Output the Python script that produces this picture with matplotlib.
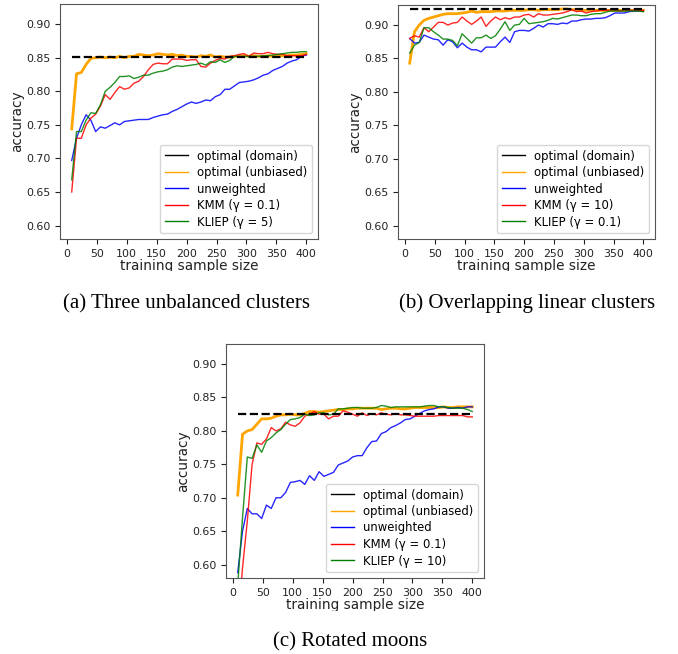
import matplotlib
matplotlib.use("Agg")
import matplotlib.pyplot as plt
from matplotlib.lines import Line2D
from matplotlib.transforms import Bbox, TransformedBbox

sizes = list(range(8, 401, 8))

# (a) three unbalanced clusters
a_domain = 0.851
a_unbiased = [0.744, 0.826, 0.828, 0.840, 0.849, 0.850, 0.851, 0.850, 0.851, 0.850,
              0.852, 0.850, 0.852, 0.852, 0.855, 0.854, 0.853, 0.854, 0.856, 0.855,
              0.854, 0.855, 0.853, 0.854, 0.852, 0.852, 0.851, 0.853, 0.852, 0.854,
              0.851, 0.852, 0.851, 0.851, 0.852, 0.852, 0.853, 0.852, 0.853, 0.852,
              0.852, 0.853, 0.852, 0.852, 0.853, 0.853, 0.854, 0.854, 0.855, 0.856]
a_unweighted = [0.697, 0.730, 0.750, 0.765, 0.757, 0.740, 0.747, 0.745, 0.749, 0.753,
                0.750, 0.755, 0.756, 0.757, 0.758, 0.758, 0.758, 0.761, 0.763, 0.765,
                0.766, 0.770, 0.773, 0.777, 0.781, 0.784, 0.782, 0.784, 0.787, 0.786,
                0.792, 0.795, 0.803, 0.803, 0.808, 0.813, 0.814, 0.815, 0.817, 0.820,
                0.824, 0.826, 0.831, 0.834, 0.837, 0.842, 0.845, 0.847, 0.852, 0.854]
a_kmm = [0.650, 0.730, 0.730, 0.750, 0.760, 0.766, 0.778, 0.795, 0.788, 0.798,
         0.807, 0.803, 0.805, 0.812, 0.815, 0.822, 0.832, 0.840, 0.842, 0.841,
         0.841, 0.848, 0.848, 0.848, 0.846, 0.847, 0.847, 0.837, 0.836, 0.842,
         0.846, 0.849, 0.848, 0.852, 0.853, 0.855, 0.856, 0.852, 0.857, 0.856,
         0.856, 0.858, 0.856, 0.855, 0.855, 0.853, 0.853, 0.853, 0.853, 0.855]
a_kliep = [0.668, 0.740, 0.740, 0.757, 0.768, 0.767, 0.780, 0.800, 0.806, 0.813,
           0.822, 0.822, 0.823, 0.819, 0.821, 0.824, 0.824, 0.827, 0.829, 0.830,
           0.832, 0.836, 0.838, 0.837, 0.838, 0.839, 0.840, 0.842, 0.839, 0.844,
           0.843, 0.847, 0.843, 0.846, 0.852, 0.852, 0.852, 0.852, 0.852, 0.852,
           0.853, 0.853, 0.854, 0.855, 0.856, 0.857, 0.858, 0.858, 0.859, 0.859]

# (b) overlapping linear clusters
b_domain = 0.924
b_unbiased = [0.843, 0.890, 0.900, 0.907, 0.910, 0.912, 0.914, 0.916, 0.917, 0.917,
              0.917, 0.918, 0.919, 0.921, 0.919, 0.920, 0.920, 0.920, 0.921, 0.921,
              0.921, 0.922, 0.922, 0.922, 0.922, 0.923, 0.923, 0.922, 0.923, 0.923,
              0.923, 0.923, 0.924, 0.924, 0.923, 0.923, 0.922, 0.922, 0.922, 0.922,
              0.922, 0.922, 0.922, 0.922, 0.922, 0.922, 0.922, 0.922, 0.922, 0.922]
b_unweighted = [0.880, 0.873, 0.874, 0.885, 0.882, 0.879, 0.878, 0.870, 0.878, 0.875,
                0.866, 0.873, 0.867, 0.863, 0.863, 0.860, 0.867, 0.867, 0.867, 0.875,
                0.882, 0.874, 0.890, 0.892, 0.892, 0.891, 0.895, 0.900, 0.897, 0.902,
                0.902, 0.901, 0.903, 0.902, 0.906, 0.906, 0.908, 0.909, 0.909, 0.910,
                0.910, 0.911, 0.914, 0.918, 0.918, 0.918, 0.920, 0.921, 0.921, 0.921]
b_kmm = [0.880, 0.884, 0.882, 0.896, 0.890, 0.897, 0.904, 0.904, 0.900, 0.903,
         0.904, 0.912, 0.906, 0.901, 0.906, 0.912, 0.898, 0.906, 0.912, 0.908,
         0.911, 0.909, 0.912, 0.912, 0.915, 0.916, 0.912, 0.917, 0.915, 0.915,
         0.916, 0.917, 0.918, 0.920, 0.923, 0.920, 0.921, 0.918, 0.920, 0.921,
         0.922, 0.922, 0.922, 0.922, 0.921, 0.922, 0.922, 0.922, 0.922, 0.922]
b_kliep = [0.858, 0.870, 0.874, 0.896, 0.896, 0.890, 0.885, 0.879, 0.879, 0.877,
           0.869, 0.887, 0.880, 0.873, 0.881, 0.881, 0.885, 0.880, 0.884, 0.894,
           0.905, 0.892, 0.900, 0.901, 0.910, 0.902, 0.903, 0.904, 0.905, 0.907,
           0.910, 0.909, 0.911, 0.913, 0.915, 0.915, 0.914, 0.914, 0.916, 0.917,
           0.917, 0.919, 0.921, 0.921, 0.921, 0.921, 0.921, 0.921, 0.921, 0.920]

# (c) rotated moons
c_domain = 0.825
c_unbiased = [0.704, 0.795, 0.800, 0.802, 0.810, 0.818, 0.818, 0.819, 0.822, 0.824,
              0.824, 0.825, 0.824, 0.824, 0.826, 0.829, 0.829, 0.828, 0.829, 0.830,
              0.831, 0.832, 0.832, 0.833, 0.833, 0.834, 0.834, 0.834, 0.834, 0.834,
              0.832, 0.833, 0.834, 0.834, 0.833, 0.833, 0.834, 0.835, 0.835, 0.835,
              0.835, 0.835, 0.835, 0.836, 0.835, 0.835, 0.836, 0.836, 0.836, 0.836]
c_unweighted = [0.588, 0.650, 0.684, 0.676, 0.676, 0.669, 0.689, 0.684, 0.700, 0.700,
                0.708, 0.723, 0.724, 0.726, 0.720, 0.733, 0.726, 0.739, 0.732, 0.735,
                0.738, 0.749, 0.752, 0.755, 0.761, 0.763, 0.763, 0.775, 0.784, 0.785,
                0.796, 0.799, 0.805, 0.808, 0.812, 0.817, 0.818, 0.822, 0.826, 0.830,
                0.832, 0.833, 0.836, 0.836, 0.834, 0.834, 0.835, 0.834, 0.836, 0.836]
c_kmm = [0.500, 0.595, 0.665, 0.750, 0.782, 0.780, 0.788, 0.805, 0.800, 0.803,
         0.813, 0.809, 0.807, 0.812, 0.822, 0.825, 0.829, 0.825, 0.825, 0.818,
         0.822, 0.822, 0.830, 0.828, 0.825, 0.822, 0.827, 0.823, 0.826, 0.824,
         0.827, 0.825, 0.824, 0.826, 0.824, 0.824, 0.823, 0.822, 0.822, 0.822,
         0.822, 0.822, 0.823, 0.823, 0.823, 0.823, 0.823, 0.823, 0.821, 0.821]
c_kliep = [0.570, 0.670, 0.761, 0.759, 0.779, 0.768, 0.785, 0.790, 0.797, 0.802,
           0.810, 0.817, 0.818, 0.820, 0.825, 0.823, 0.824, 0.827, 0.827, 0.824,
           0.825, 0.833, 0.833, 0.834, 0.835, 0.835, 0.834, 0.834, 0.834, 0.835,
           0.838, 0.837, 0.835, 0.836, 0.836, 0.836, 0.836, 0.836, 0.836, 0.837,
           0.838, 0.838, 0.836, 0.836, 0.835, 0.834, 0.834, 0.834, 0.832, 0.829]

yticks = [0.60, 0.65, 0.70, 0.75, 0.80, 0.85, 0.90]
xticks = [0, 50, 100, 150, 200, 250, 300, 350, 400]

W, H = 678, 654
fig = plt.figure(figsize=(W / 100, H / 100), dpi=100)


def panel(left, top, width, height, domain, unbiased, unweighted, kmm, kliep,
          kmm_label, kliep_label, caption, cap_x, cap_y, clip_y):
    ax = fig.add_axes([left / W, 1 - (top + height) / H, width / W, height / H])
    ax.plot(sizes, unbiased, color="orange", lw=2)
    ax.plot(sizes, unweighted, color="blue", lw=1, alpha=0.85)
    ax.plot(sizes, kmm, color="red", lw=1, alpha=0.85)
    ax.plot(sizes, kliep, color="green", lw=1, alpha=0.85)
    ax.plot([sizes[0], sizes[-1]], [domain, domain], color="black", lw=1.6, ls="--")
    ax.set_ylim(0.58, 0.93)
    ax.set_yticks(yticks)
    ax.set_xticks(xticks)
    ax.tick_params(labelsize=7.9, colors="#222222")
    for s in ax.spines.values():
        s.set_color("#555555")
    ax.set_ylabel("accuracy", fontsize=9.8, color="#222222", labelpad=1.5)
    lab = ax.set_xlabel("training sample size", fontsize=9.8, color="#222222", labelpad=0.5)
    lab.set_clip_box(TransformedBbox(Bbox([[0, 1 - clip_y / H], [1, 1]]), fig.transFigure))
    lab.set_clip_on(True)
    handles = [Line2D([], [], color="black", lw=1),
               Line2D([], [], color="orange", lw=1),
               Line2D([], [], color="blue", lw=1),
               Line2D([], [], color="red", lw=1),
               Line2D([], [], color="green", lw=1)]
    labels = ["optimal (domain)", "optimal (unbiased)", "unweighted", kmm_label, kliep_label]
    ax.legend(handles, labels, loc="lower right", fontsize=8.4, labelspacing=0.3)
    fig.text(cap_x / W, 1 - cap_y / H, caption, ha="center", va="baseline",
             family="Liberation Serif", fontsize=15)
    return ax


panel(60, 4, 258, 235, a_domain, a_unbiased, a_unweighted, a_kmm, a_kliep,
      "KMM (γ = 0.1)", "KLIEP (γ = 5)", "(a) Three unbalanced clusters", 186.5, 308, 271)
panel(398, 5, 257, 234, b_domain, b_unbiased, b_unweighted, b_kmm, b_kliep,
      "KMM (γ = 10)", "KLIEP (γ = 0.1)", "(b) Overlapping linear clusters", 527.5, 308, 271)
panel(226, 344, 258, 234, c_domain, c_unbiased, c_unweighted, c_kmm, c_kliep,
      "KMM (γ = 0.1)", "KLIEP (γ = 10)", "(c) Rotated moons", 350.5, 646, 611)

fig.savefig("out.png", dpi=100)
